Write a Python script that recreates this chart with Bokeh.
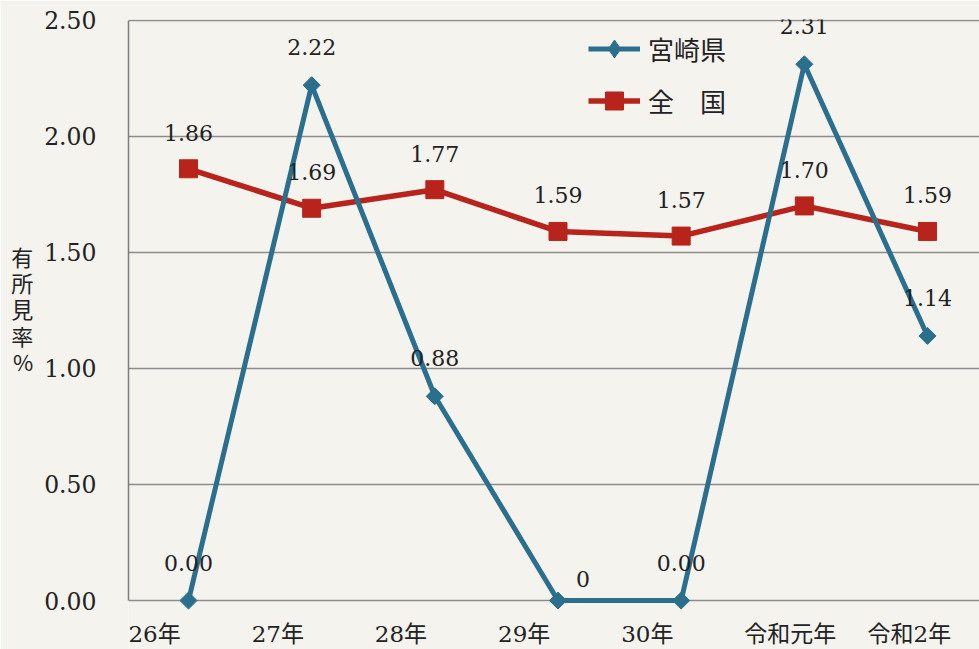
from bokeh.plotting import figure
from bokeh.models import (Range1d, FixedTicker, NumeralTickFormatter, Legend, LegendItem,
                          ColumnDataSource)
from bokeh.core.properties import value
from bokeh.embed import file_html
from bokeh.resources import INLINE
import math

# ---- data ----
years = ["26年", "27年", "28年", "29年", "30年", "令和元年", "令和2年"]
miyazaki = [0.00, 2.22, 0.88, 0.0, 0.00, 2.31, 1.14]
miyazaki_text = ["0.00", "2.22", "0.88", "0", "0.00", "2.31", "1.14"]
national = [1.86, 1.69, 1.77, 1.59, 1.57, 1.70, 1.59]
national_text = ["1.86", "1.69", "1.77", "1.59", "1.57", "1.70", "1.59"]
y_ticks = [0.0, 0.5, 1.0, 1.5, 2.0, 2.5]

# ---- styles ----
BG = "#f4f3ee"
BLUE = "#2b6f8f"
RED = "#b8241b"
SERIF = "DejaVu Serif, Noto Sans CJK JP"
CJK = "Noto Sans CJK JP"

xs = list(range(len(years)))

p = figure(width=979, height=649, output_backend="svg", toolbar_location=None,
           x_range=Range1d(-0.487, 6.422), y_range=Range1d(-0.2108, 2.503),
           min_border_left=128, min_border_right=0, min_border_top=19, min_border_bottom=0,
           background_fill_color=BG, border_fill_color=BG, outline_line_color=None)

p.xaxis.visible = False
p.xgrid.visible = False

yax = p.yaxis[0]
yax.ticker = FixedTicker(ticks=y_ticks)
yax.formatter = NumeralTickFormatter(format="0.00")
yax.bounds = (0, 2.5)
yax.axis_line_color = "#7d7d7d"
yax.axis_line_width = 1.5
yax.major_tick_line_color = None
yax.minor_tick_line_color = None
yax.major_label_standoff = 26
yax.major_label_text_font = SERIF
yax.major_label_text_font_size = "23.5px"
yax.major_label_text_color = "#222222"
yax.axis_label = "有\n所\n見\n率\n%\n \n "
yax.axis_label_orientation = "horizontal"
yax.axis_label_text_font = CJK
yax.axis_label_text_font_style = "normal"
yax.axis_label_text_font_size = "22px"
yax.axis_label_text_line_height = 0.82
yax.axis_label_text_color = "#222222"
yax.axis_label_standoff = 8

p.ygrid.ticker = FixedTicker(ticks=y_ticks)
p.ygrid.grid_line_color = "#8c8c8c"
p.ygrid.grid_line_width = 1.5

src_m = ColumnDataSource(dict(x=xs, y=miyazaki, t=miyazaki_text,
                              xo=[0, 0, 0, 25, 0, 0, 0],
                              yo=[-38, -38, -38, -22, -38, -38, -38]))
src_n = ColumnDataSource(dict(x=xs, y=national, t=national_text))

ln = p.line("x", "y", source=src_n, line_color=RED, line_width=5.5)
sn = p.scatter("x", "y", source=src_n, marker="square", size=18,
               fill_color=RED, line_color=RED)
lm = p.line("x", "y", source=src_m, line_color=BLUE, line_width=5)
# diamond glyph (used for the legend swatch), drawn beneath the rotated squares
dm = p.scatter("x", "y", source=src_m, marker="diamond", size=12,
               fill_color=BLUE, line_color=BLUE)
sm = p.scatter("x", "y", source=src_m, marker="square", size=12, angle=math.pi / 4,
               fill_color=BLUE, line_color=BLUE)

p.text("x", "y", text="t", source=src_n, text_align="center", text_baseline="middle",
       y_offset=-36, text_font=value(SERIF), text_font_size="22px", text_color="#222222")
p.text("x", "y", text="t", source=src_m, text_align="center", text_baseline="middle",
       x_offset="xo", y_offset="yo", text_font=value(SERIF), text_font_size="22px",
       text_color="#222222")

# category labels below the baseline
src_lab = ColumnDataSource(dict(x=xs, y=[0] * len(years), t=years))
p.text("x", "y", text="t", source=src_lab, text_align="left", text_baseline="middle",
       x_offset=-60, y_offset=33, text_font=value(SERIF), text_font_size="23px",
       text_color="#222222")

legend = Legend(items=[LegendItem(label="宮崎県", renderers=[lm, dm]),
                       LegendItem(label="全　国", renderers=[ln, sn])],
                location=(460, 526), orientation="vertical",
                background_fill_alpha=0, border_line_color=None,
                glyph_width=52, glyph_height=45, label_height=45, spacing=7,
                padding=0, margin=0, label_standoff=8,
                label_text_font=CJK, label_text_font_size="26px",
                label_text_color="#222222")
p.add_layout(legend)

open("out.html", "w").write(file_html(p, INLINE))
